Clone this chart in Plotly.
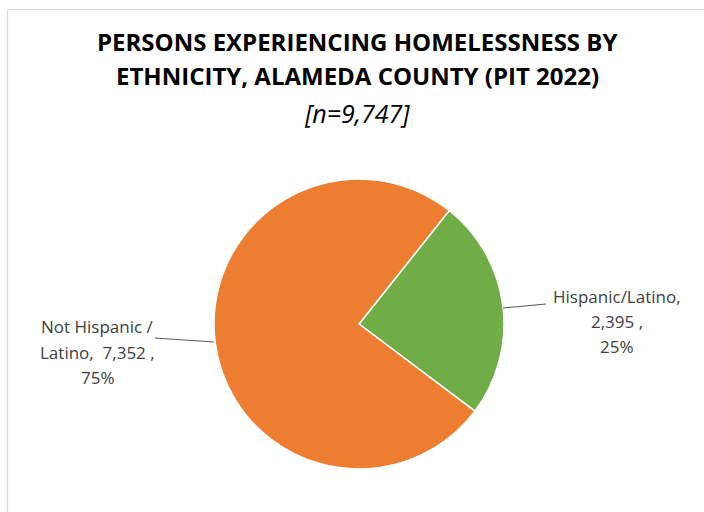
import plotly.graph_objects as go

W, H = 704, 512

# Data
categories = ["Hispanic/Latino", "Not Hispanic / Latino"]
counts = [2395, 7352]
colors = ["#70AD47", "#ED7D31"]
total = sum(counts)

title_line1 = "PERSONS EXPERIENCING HOMELESSNESS BY"
title_line2 = "ETHNICITY, ALAMEDA COUNTY (PIT 2022)"
subtitle = f"[n={total:,}]"

def px_x(x):
    return x / W

def px_y(y):
    return 1 - y / H

cx, cy, r = 359, 324, 145

fig = go.Figure(go.Pie(
    labels=categories,
    values=counts,
    sort=False,
    direction="clockwise",
    rotation=38.5,
    marker=dict(colors=colors, line=dict(color="white", width=1.5)),
    textinfo="none",
    hoverinfo="label+value+percent",
    domain=dict(x=[px_x(cx - r), px_x(cx + r)], y=[px_y(cy + r), px_y(cy - r)]),
    showlegend=False,
))

title_font = "Open Sans, Noto Sans, sans-serif"
label_font = "Open Sans, Noto Sans, sans-serif"

def pct(v):
    return f"{round(100 * v / total)}%"

def text_at(text, x, y, size, family, color):
    return dict(text=text, x=px_x(x), y=px_y(y), xref="paper", yref="paper",
                xanchor="center", yanchor="middle", showarrow=False,
                font=dict(size=size, color=color, family=family))

# Data label lines for each slice
label_lines = [
    ["Hispanic/Latino,", f"{counts[0]:,} ,", pct(counts[0])],
    ["Not Hispanic /", f"Latino,  {counts[1]:,} ,", pct(counts[1])],
]
label_pos = [
    (617, [296, 321, 346]),
    (98, [326, 352, 377]),
]

annotations = [
    text_at(f"<b>{title_line1}</b>", 357, 41.5, 24, title_font, "#000000"),
    text_at(f"<b>{title_line2}</b>", 357, 75, 24, title_font, "#000000"),
    text_at(f"<i>{subtitle}</i>", 357, 113, 25, title_font, "#000000"),
]
for lines, (lx, ys) in zip(label_lines, label_pos):
    for line, ly in zip(lines, ys):
        annotations.append(text_at(line, lx, ly, 17, label_font, "#404040"))

shapes = [
    # chart frame
    dict(type="line", xref="paper", yref="paper", x0=px_x(7.5), x1=px_x(7.5),
         y0=-0.1, y1=px_y(9.5), line=dict(color="#D9D9D9", width=1.2)),
    dict(type="line", xref="paper", yref="paper", x0=px_x(7.5), x1=1.1,
         y0=px_y(9.5), y1=px_y(9.5), line=dict(color="#D9D9D9", width=1.2)),
    # leader lines
    dict(type="line", xref="paper", yref="paper", x0=px_x(503), x1=px_x(546),
         y0=px_y(308), y1=px_y(304), line=dict(color="#595959", width=1)),
    dict(type="line", xref="paper", yref="paper", x0=px_x(155), x1=px_x(214),
         y0=px_y(338), y1=px_y(342), line=dict(color="#595959", width=1)),
]

fig.update_layout(
    width=W, height=H,
    margin=dict(l=0, r=0, t=0, b=0),
    paper_bgcolor="white",
    plot_bgcolor="white",
    annotations=annotations,
    shapes=shapes,
)

fig.write_html("out.html")
